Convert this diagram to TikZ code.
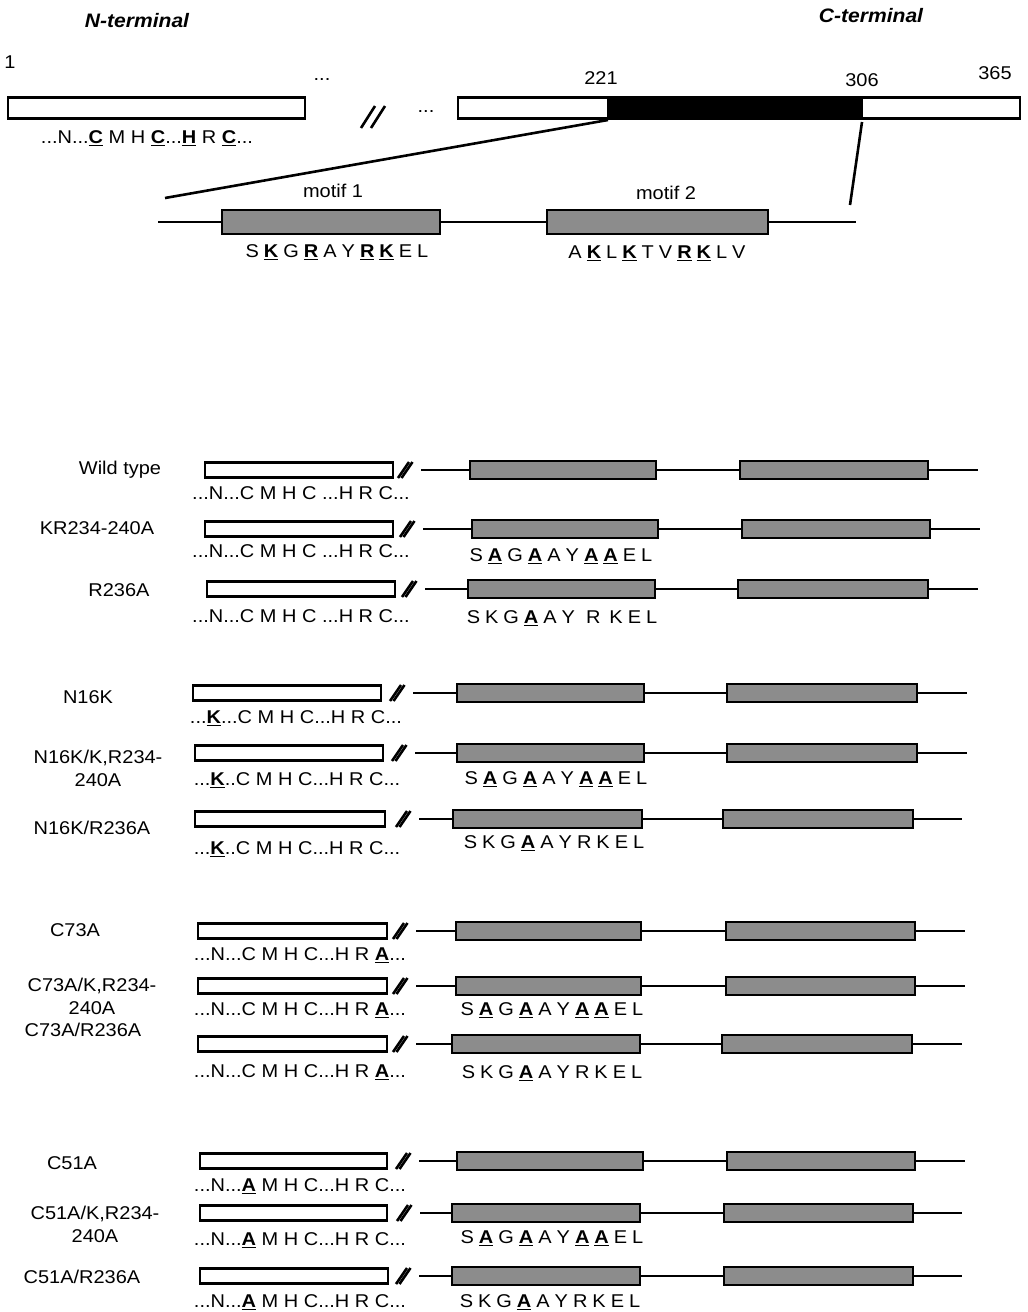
\documentclass[tikz,border=0pt]{standalone}
\usepackage{fontspec}
\setmainfont{Liberation Sans}[FakeStretch=1.08]
\newcommand\bu[1]{\underline{\textbf{#1}}}
\newcommand\g{\hspace{5pt}}
\begin{document}
\begin{tikzpicture}[x=1pt,y=-1pt,
  every node/.style={inner sep=0pt, outer sep=0pt},
  txt/.style={font=\fontsize{18.5}{22}\selectfont},
  lab/.style={font=\fontsize{18.5}{23}\selectfont, align=center},
  ttl/.style={font=\fontsize{19.5}{22}\selectfont\bfseries\itshape},
  nbox/.style={draw, line width=2.8pt, fill=white, minimum height=15},
  mbox/.style={draw, line width=2.2pt, fill=black!45, minimum height=18},
  ln/.style={line width=1.8pt},
  tln/.style={line width=2.6pt},
  sl/.style={line width=2.6pt},
]
\useasboundingbox (0,0) rectangle (1028,1312);
% ---------- top overview ----------
\node[ttl] (nt) at (137,21) {N-terminal};
\node[ttl] (ct) at (871,16) {C-terminal};
\node[txt] (n1) at (10,62) {1};
\node[txt] (d1) at (322,80) {...};
\node[txt] (d2) at (426,112) {...};
\node[nbox, minimum width=297, minimum height=21] (lb) at (156.5,108) {};
\node[nbox, minimum width=562, minimum height=21] (rb) at (739,108) {};
\node[draw, fill=black, line width=2.8pt, minimum width=254, minimum height=21] (bk) at (735,108) {};
\node[txt] (p221) at (601,78) {221};
\node[txt] (p306) at (862,80) {306};
\node[txt] (p365) at (995,73) {365};
\draw[sl] (361,128) -- (375,106);
\draw[sl] (371,128) -- (385,106);
\node[txt] (s0) at (147,138) {...N...\bu{C} M H \bu{C}...\bu{H} R \bu{C}...};
% zoom lines
\coordinate (z1) at (165,198);
\coordinate (z2) at (850,205);
\coordinate (b1) at (608,120);
\coordinate (b2) at (862,122);
\draw[tln] (b1) -- (z1);
\draw[tln] (b2) -- (z2);
% motif line
\coordinate (mls) at (158,222);
\coordinate (mle) at (856,222);
\node[mbox, line width=2.8pt, minimum width=218, minimum height=24] (m1) at (331,222) {};
\node[mbox, line width=2.8pt, minimum width=221, minimum height=24] (m2) at (657.5,222) {};
\draw[tln] (mls) -- (m1.west) (m1.east) -- (m2.west) (m2.east) -- (mle);
\node[txt] (mt1) at (333,191) {motif 1};
\node[txt] (mt2) at (666,193) {motif 2};
\node[txt] (sq1) at (337,252) {S\g\bu{K}\g G\g\bu{R}\g A\g Y\g\bu{R}\g\bu{K}\g E\g L};
\node[txt] (sq2) at (657,253) {A\g\bu{K}\g L\g\bu{K}\g T\g V\g\bu{R}\g\bu{K}\g L\g V};
% ---------- mutant rows ----------
\foreach \nm/\y/\nl/\nr/\sx/\ma/\mb/\mc/\md/\e in {
 a/470/205/393/405/470/656/740/928/978,
 b/529/205/393/407/472/658/742/930/980,
 c/589/207/395/409/468/655/738/928/978,
 d/693/193/381/397/457/644/727/917/967,
 e/753/195/383/399/457/644/727/917/967,
 f/819/195/385/403/453/642/723/913/962,
 g/931/198/387/400/456/641/726/915/965,
 h/986/198/387/400/456/641/726/915/965,
 i/1044/198/387/400/452/640/722/912/962,
 j/1161/200/387/403/457/643/727/915/965,
 k/1213/200/387/404/452/640/724/913/962,
 l/1276/200/388/403/452/640/724/913/962}
{
 \node[nbox, minimum width={\nr-\nl}] (N\nm) at ({(\nl+\nr)/2},\y) {};
 \draw[sl] (\sx-7,\y+8) -- (\sx+4,\y-8);
 \draw[sl] (\sx-3.5,\y+8) -- (\sx+7.5,\y-8);
 \coordinate (L\nm) at (\sx+16,\y);
 \node[mbox, minimum width={\mb-\ma}] (A\nm) at ({(\ma+\mb)/2},\y) {};
 \node[mbox, minimum width={\md-\mc}] (B\nm) at ({(\mc+\md)/2},\y) {};
 \coordinate (E\nm) at (\e,\y);
 \draw[ln] (L\nm) -- (A\nm.west) (A\nm.east) -- (B\nm.west) (B\nm.east) -- (E\nm);
}
% labels
\node[lab] (la) at (120,470) {Wild type};
\node[lab] (lb2) at (97,528) {KR234-240A};
\node[lab] (lc) at (119,590) {R236A};
\node[lab] (ld) at (88,697) {N16K};
\node[lab] (le) at (98,768) {N16K/K,R234-\\240A};
\node[lab] (lf) at (92,828) {N16K/R236A};
\node[lab] (lg) at (75,930) {C73A};
\node[lab] (lh) at (92,996) {C73A/K,R234-\\240A};
\node[lab] (li) at (83,1030) {C73A/R236A};
\node[lab] (lj) at (72,1163) {C51A};
\node[lab] (lk) at (95,1224) {C51A/K,R234-\\240A};
\node[lab] (ll) at (82,1277) {C51A/R236A};
% N-terminal sequences
\node[txt] (sa) at (301,493) {...N...C M H C ...H R C...};
\node[txt] (sb) at (301,551) {...N...C M H C ...H R C...};
\node[txt] (sc) at (301,616) {...N...C M H C ...H R C...};
\node[txt] (sd) at (296,718) {...\bu{K}...C M H C...H R C...};
\node[txt] (se) at (297,780) {...\bu{K}..C M H C...H R C...};
\node[txt] (sf) at (297,849) {...\bu{K}..C M H C...H R C...};
\node[txt] (sg) at (300,955) {...N...C M H C...H R \bu{A}...};
\node[txt] (sh) at (300,1010) {...N...C M H C...H R \bu{A}...};
\node[txt] (si) at (300,1072) {...N...C M H C...H R \bu{A}...};
\node[txt] (sj) at (300,1186) {...N...\bu{A} M H C...H R C...};
\node[txt] (sk) at (300,1240) {...N...\bu{A} M H C...H R C...};
\node[txt] (sl) at (300,1302) {...N...\bu{A} M H C...H R C...};
% motif-1 sequences
\node[txt] (tb) at (561,556) {S\g\bu{A}\g G\g\bu{A}\g A\g Y\g\bu{A}\g\bu{A}\g E\g L};
\node[txt] (tc) at (562,618) {S\g K\g G\g\bu{A}\g A\g Y\hspace{11pt}R\hspace{9pt}K\g E\g L};
\node[txt] (te) at (556,779) {S\g\bu{A}\g G\g\bu{A}\g A\g Y\g\bu{A}\g\bu{A}\g E\g L};
\node[txt] (tf) at (554,843) {S\g K\g G\g\bu{A}\g A\g Y\g R\g K\g E\g L};
\node[txt] (th) at (552,1010) {S\g\bu{A}\g G\g\bu{A}\g A\g Y\g\bu{A}\g\bu{A}\g E\g L};
\node[txt] (ti) at (552,1073) {S\g K\g G\g\bu{A}\g A\g Y\g R\g K\g E\g L};
\node[txt] (tk) at (552,1238) {S\g\bu{A}\g G\g\bu{A}\g A\g Y\g\bu{A}\g\bu{A}\g E\g L};
\node[txt] (tl) at (550,1302) {S\g K\g G\g\bu{A}\g A\g Y\g R\g K\g E\g L};
\end{tikzpicture}
\end{document}
